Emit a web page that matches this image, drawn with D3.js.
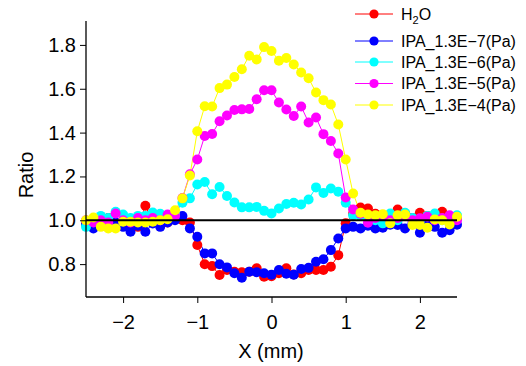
<!DOCTYPE html>
<html><head><meta charset="utf-8">
<script src="https://cdn.jsdelivr.net/npm/d3@7"></script>
<style>body{margin:0;background:#fff}svg{display:block}text{font-family:"Liberation Sans",Arial,sans-serif}</style>
</head><body><svg id="c" width="526" height="366"></svg>
<script>
const X = [-2.5,-2.4,-2.3,-2.2,-2.1,-2.0,-1.9,-1.8,-1.7,-1.6,-1.5,-1.4,-1.3,-1.2,-1.1,-1.0,-0.9,-0.8,-0.7,-0.6,-0.5,-0.4,-0.3,-0.2,-0.1,0.0,0.1,0.2,0.3,0.4,0.5,0.6,0.7,0.8,0.9,1.0,1.1,1.2,1.3,1.4,1.5,1.6,1.7,1.8,1.9,2.0,2.1,2.2,2.3,2.4,2.5];
const H2O = [0.99,1.00,0.98,1.01,0.99,1.00,0.97,0.97,1.066,0.99,1.00,0.99,1.004,1.00,0.99,0.887,0.799,0.791,0.750,0.773,0.765,0.763,0.765,0.781,0.742,0.745,0.758,0.781,0.753,0.758,0.773,0.773,0.773,0.788,0.841,0.986,1.03,1.058,1.054,1.03,1.02,1.02,1.049,1.03,1.01,1.034,1.02,1.01,1.039,1.00,1.01];
const IPA7 = [0.98,0.963,0.99,0.98,0.99,0.97,0.948,0.975,0.948,0.985,0.97,0.99,1.00,1.019,0.963,0.925,0.849,0.849,0.799,0.785,0.758,0.738,0.765,0.763,0.758,0.752,0.773,0.756,0.752,0.778,0.783,0.811,0.822,0.864,0.917,0.963,0.97,0.963,0.975,0.963,0.966,0.98,0.979,0.963,0.985,0.943,0.98,0.97,0.943,0.955,0.98];
const IPA6 = [0.97,1.00,1.02,1.01,1.039,1.026,1.01,1.02,1.02,1.035,1.03,1.02,1.03,1.08,1.10,1.163,1.175,1.119,1.152,1.111,1.081,1.059,1.059,1.061,1.043,1.031,1.054,1.074,1.080,1.072,1.095,1.150,1.125,1.145,1.130,1.08,1.023,1.02,1.01,1.00,0.986,1.031,1.00,1.034,1.01,1.00,1.02,1.031,1.00,1.01,1.023];
const IPA5 = [1.00,0.99,1.00,0.99,1.031,1.00,0.99,1.01,1.00,1.01,1.00,1.026,1.02,1.102,1.21,1.277,1.385,1.394,1.452,1.478,1.503,1.506,1.508,1.552,1.593,1.593,1.537,1.505,1.476,1.519,1.446,1.469,1.393,1.362,1.305,1.104,1.049,1.03,0.989,1.01,1.02,1.00,1.01,1.02,1.00,1.009,1.016,1.00,1.01,1.023,1.00];
const IPA4 = [1.00,1.013,0.97,0.963,0.963,0.993,0.993,0.99,0.99,0.993,1.00,1.005,1.046,1.10,1.204,1.406,1.52,1.519,1.603,1.619,1.654,1.689,1.751,1.734,1.790,1.772,1.728,1.740,1.711,1.674,1.648,1.583,1.548,1.528,1.437,1.277,1.122,1.034,1.026,1.023,1.028,0.986,1.023,1.026,0.979,0.979,0.966,1.004,1.0,0.981,1.016];
const seriesNames = ["H2O","IPA_1.3E\u22127(Pa)","IPA_1.3E\u22126(Pa)","IPA_1.3E\u22125(Pa)","IPA_1.3E\u22124(Pa)"];
const seriesValues = [H2O, IPA7, IPA6, IPA5, IPA4];
const seriesColors = ["#ff0000","#0000ff","#00ffff","#ff00ff","#ffff00"];
const xTicks = [-2,-1,0,1,2];
const xMinor = [-2.5,-1.5,-0.5,0.5,1.5,2.5];
const yTicks = [0.8,1.0,1.2,1.4,1.6,1.8];
const yMinor = [0.7,0.9,1.1,1.3,1.5,1.7,1.9];

const svg = d3.select("#c");
const x = d3.scaleLinear().domain([-2.5,2.5]).range([86,457]);
const y = d3.scaleLinear().domain([0.65,1.9]).range([297,23]);

const line = d3.line().x((d,i)=>x(X[i])).y(d=>y(d));
seriesValues.forEach((vals,k)=>{
  svg.append("path").datum(vals).attr("d",line).attr("fill","none")
    .attr("stroke",seriesColors[k]).attr("stroke-width",1);
});
seriesValues.forEach((vals,k)=>{
  svg.append("g").selectAll("circle").data(vals).join("circle")
    .attr("cx",(d,i)=>x(X[i])).attr("cy",d=>y(d)).attr("r",5)
    .attr("fill",seriesColors[k]);
});

// reference line at 1.0 (drawn over markers)
svg.append("line").attr("x1",x(-2.5)).attr("x2",x(2.5)).attr("y1",y(1)).attr("y2",y(1))
  .attr("stroke","#000").attr("stroke-width",2);

// axes
const gx = svg.append("g").attr("transform","translate(0,297)");
gx.call(d3.axisBottom(x).tickValues(xMinor).tickSize(4).tickFormat(""));
gx.call(d3.axisBottom(x).tickValues(xTicks).tickSize(6).tickPadding(12).tickFormat(d=>d3.format("")(d).replace("-","\u2212")));
gx.selectAll("text").attr("font-size",20).attr("fill","#000").attr("font-family","Liberation Sans, Arial, sans-serif");

const gy = svg.append("g").attr("transform","translate(86,0)");
gy.call(d3.axisLeft(y).tickValues(yMinor).tickSize(4).tickFormat(""));
gy.call(d3.axisLeft(y).tickValues(yTicks).tickSize(6).tickPadding(4).tickFormat(d3.format(".1f")));
gy.selectAll("text").attr("font-size",20).attr("fill","#000").attr("font-family","Liberation Sans, Arial, sans-serif");
svg.selectAll(".domain").attr("d",null);
svg.append("line").attr("x1",86).attr("x2",86).attr("y1",y(1.9)-2).attr("y2",297).attr("stroke","#000").attr("stroke-width",1.3);
svg.append("line").attr("x1",86).attr("x2",x(2.5)).attr("y1",297).attr("y2",297).attr("stroke","#000").attr("stroke-width",1.3);

svg.append("text").attr("x",271).attr("y",358).attr("text-anchor","middle").attr("font-size",20).text("X (mm)");
svg.append("text").attr("transform","translate(33,175) rotate(-90)").attr("text-anchor","middle").attr("font-size",20).text("Ratio");

// legend
const legY = [14,41,62,83.5,105];
seriesNames.forEach((n,k)=>{
  const g = svg.append("g");
  g.append("line").attr("x1",355).attr("x2",393).attr("y1",legY[k]).attr("y2",legY[k]).attr("stroke",seriesColors[k]).attr("stroke-width",1);
  g.append("circle").attr("cx",374).attr("cy",legY[k]).attr("r",4.6).attr("fill",seriesColors[k]);
  const t = g.append("text").attr("x",401).attr("y",legY[k]+5.8).attr("font-size",16);
  if (k===0){
    t.append("tspan").text("H");
    t.append("tspan").attr("font-size",11).attr("dy",4).text("2");
    t.append("tspan").attr("dy",-4).text("O");
  } else t.text(n);
});
</script></body></html>
